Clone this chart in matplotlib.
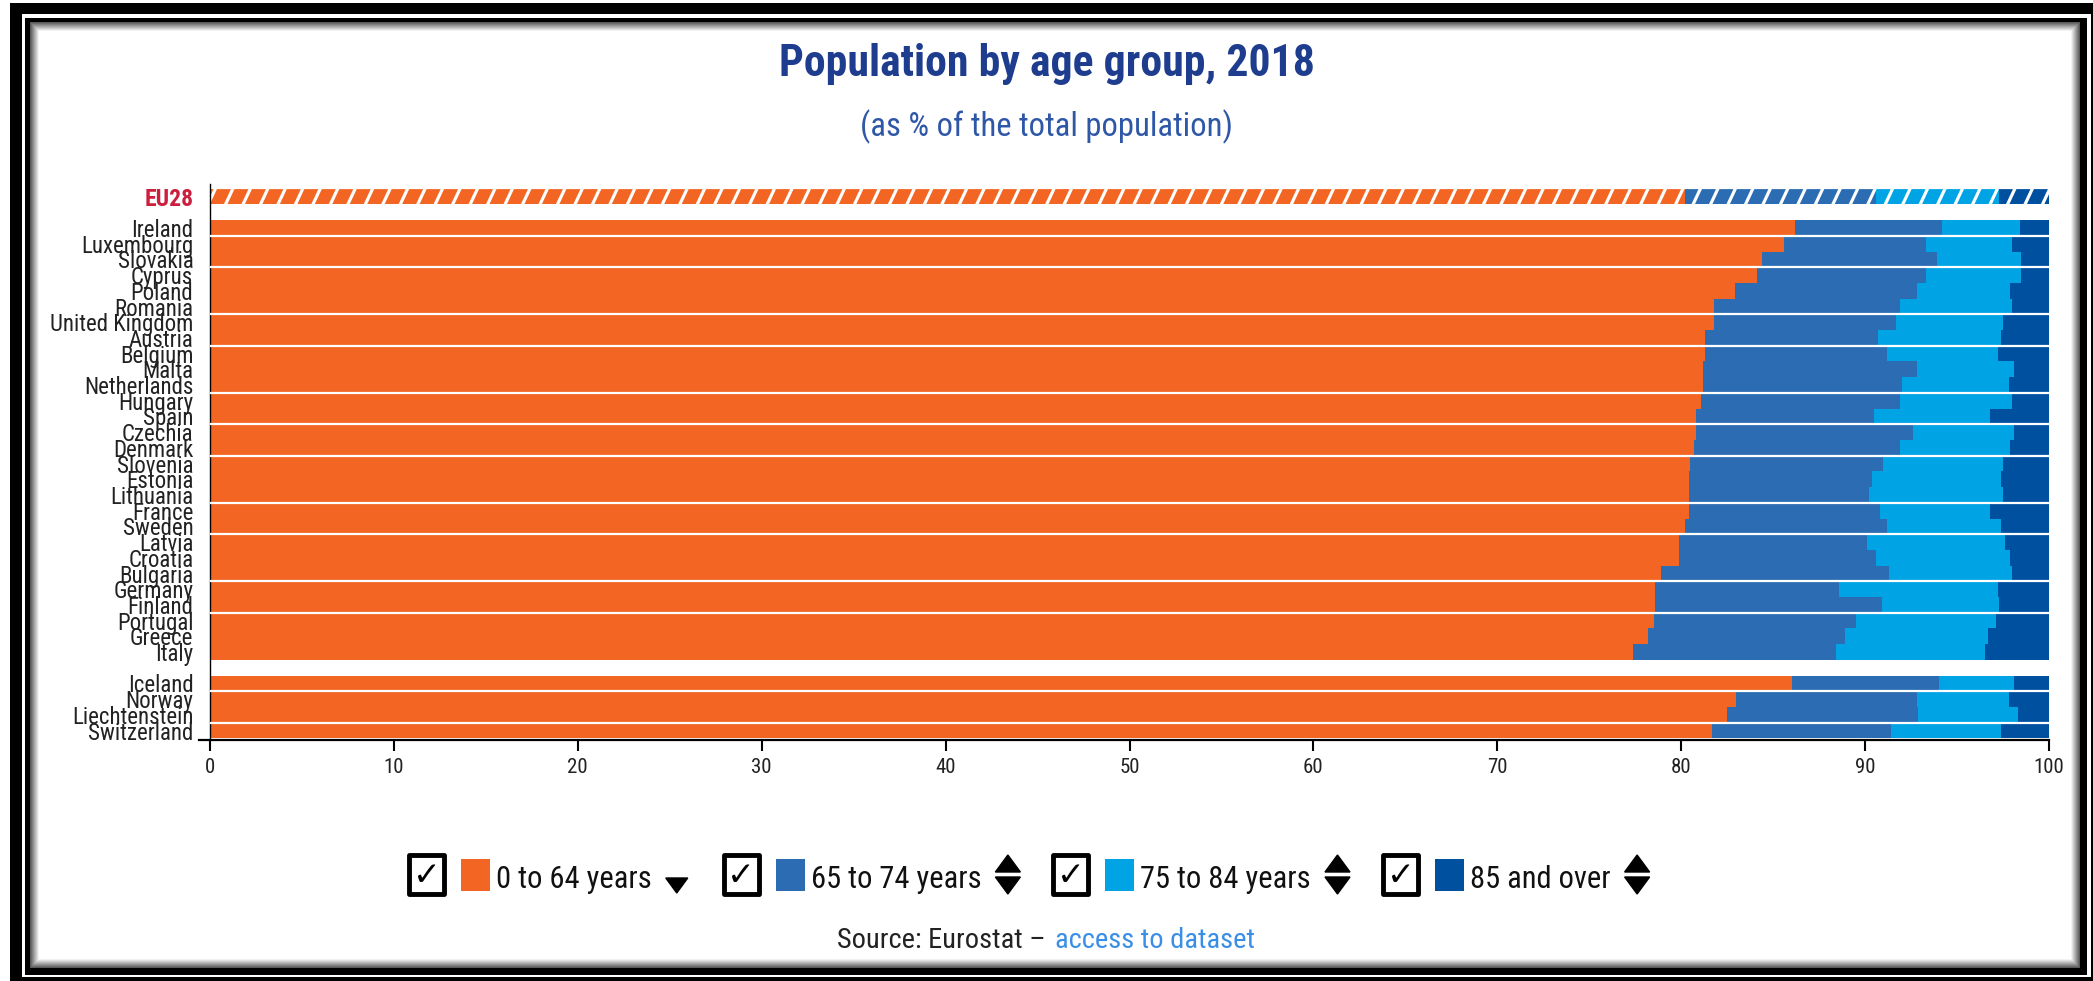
import numpy as np
import matplotlib
matplotlib.use("Agg")
import matplotlib.pyplot as plt
from matplotlib import font_manager
from matplotlib.patches import Rectangle, Polygon
from matplotlib.collections import PolyCollection
from matplotlib.lines import Line2D

# --- data: share of total population by age group, 2018 (%) ---
eu_label = "EU28"
eu_values = [80.2, 10.4, 6.7, 2.7]

countries = ["Ireland", "Luxembourg", "Slovakia", "Cyprus", "Poland", "Romania",
             "United Kingdom", "Austria", "Belgium", "Malta", "Netherlands",
             "Hungary", "Spain", "Czechia", "Denmark", "Slovenia", "Estonia",
             "Lithuania", "France", "Sweden", "Latvia", "Croatia", "Bulgaria",
             "Germany", "Finland", "Portugal", "Greece", "Italy"]
age_0_64 = [86.2, 85.6, 84.4, 84.1, 82.9, 81.8, 81.8, 81.3, 81.3, 81.2, 81.2,
            81.1, 80.8, 80.8, 80.7, 80.5, 80.4, 80.4, 80.4, 80.2, 79.9, 79.9,
            78.9, 78.6, 78.6, 78.5, 78.2, 77.4]
age_65_74 = [8.0, 7.7, 9.5, 9.2, 9.9, 10.1, 9.9, 9.4, 9.9, 11.6, 10.8,
             10.8, 9.7, 11.8, 11.2, 10.5, 10.0, 9.8, 10.4, 11.0, 10.2, 10.7,
             12.4, 10.0, 12.3, 11.0, 10.7, 11.0]
age_75_84 = [4.2, 4.7, 4.6, 5.2, 5.1, 6.1, 5.8, 6.7, 6.0, 5.3, 5.8,
             6.1, 6.3, 5.5, 6.0, 6.5, 7.0, 7.3, 6.0, 6.2, 7.5, 7.3,
             6.7, 8.6, 6.4, 7.6, 7.8, 8.1]
age_85_plus = [1.6, 2.0, 1.5, 1.5, 2.1, 2.0, 2.5, 2.6, 2.8, 1.9, 2.2,
               2.0, 3.2, 1.9, 2.1, 2.5, 2.6, 2.5, 3.2, 2.6, 2.4, 2.1,
               2.0, 2.8, 2.7, 2.9, 3.3, 3.5]

efta = ["Iceland", "Norway", "Liechtenstein", "Switzerland"]
efta_0_64 = [86.0, 83.0, 82.5, 81.7]
efta_65_74 = [8.0, 9.8, 10.4, 9.7]
efta_75_84 = [4.1, 5.0, 5.4, 6.0]
efta_85_plus = [1.9, 2.2, 1.7, 2.6]

groups = ["0 to 64 years", "65 to 74 years", "75 to 84 years", "85 and over"]
colors = ["#f26522", "#2b6cb3", "#00a4e4", "#0050a0"]
sort_arrow = ["down", "both", "both", "both"]


def pick_font(*names):
    for n in names:
        try:
            font_manager.findfont(n, fallback_to_default=False)
            return n
        except ValueError:
            pass
    return "DejaVu Sans"


narrow = pick_font("Liberation Sans Narrow", "Roboto Condensed", "Liberation Sans")
plt.rcParams["font.family"] = [narrow, "DejaVu Sans"]

W, H = 2093, 981
fig = plt.figure(figsize=(W / 100, H / 100), dpi=100)


def fx(px):
    return px / W


def fy(py):
    return 1 - py / H


def frect(x0, y0, x1, y1, color, z=-10, **kw):
    r = Rectangle((fx(x0), fy(y1)), (x1 - x0) / W, (y1 - y0) / H,
                  transform=fig.transFigure, facecolor=color,
                  edgecolor=kw.pop("edgecolor", "none"), zorder=z, **kw)
    fig.add_artist(r)
    return r


# page frame: thick outer border, thin inner border with soft inner shadow
frect(10, 3, W, H, "black")
frect(22, 14, W - 2, H - 4, "white")
frect(25, 18, 2087, 975, "black")
for k in range(10):
    g = min(1.0, 0.35 + 0.075 * k)
    frect(30 + k, 22 + k, 2080 - k, 968 - k, (g, g, g))
frect(40, 32, 2070, 958, "white")

# --- chart ---
ax = fig.add_axes([fx(210), fy(740), (2049 - 210) / W, (740 - 184) / H])
ax.set_facecolor("none")

pos_eu = -2
pos_c = np.arange(len(countries))
pos_e = np.arange(len(efta)) + len(countries) + 1

series_c = [age_0_64, age_65_74, age_75_84, age_85_plus]
series_e = [efta_0_64, efta_65_74, efta_75_84, efta_85_plus]


def striped_segment(a, b, y, h, color, period=0.95, width=0.76, slant=0.38):
    # slanted dashes filling [a, b], kept on one grid so the pattern runs on
    clip = Rectangle((a, y - h / 2), b - a, h, facecolor="none", linewidth=0)
    ax.add_patch(clip)
    k0 = int(np.floor((a - slant) / period)) - 1
    k1 = int(np.ceil(b / period)) + 1
    polys = []
    for k in range(k0, k1):
        x = k * period
        polys.append([(x, y + h / 2), (x + width, y + h / 2),
                      (x + width + slant, y - h / 2), (x + slant, y - h / 2)])
    pc = PolyCollection(polys, facecolors=color, edgecolors="none")
    ax.add_collection(pc)
    pc.set_clip_path(clip)


left_c = np.zeros(len(countries))
left_e = np.zeros(len(efta))
left_eu = 0.0
for i in range(4):
    vc = np.array(series_c[i])
    ve = np.array(series_e[i])
    ax.barh(pos_c, vc, left=left_c, height=1.0, color=colors[i], linewidth=0)
    ax.barh(pos_e, ve, left=left_e, height=1.0, color=colors[i], linewidth=0)
    striped_segment(left_eu, left_eu + eu_values[i], pos_eu, 0.95, colors[i])
    left_c += vc
    left_e += ve
    left_eu += eu_values[i]

# white separators between row bands
sep_rows = [0, 2, 5, 7, 10, 12, 14, 17, 19, 22, 24, 29, 31]
ax.hlines([r + 0.5 for r in sep_rows], 0, 100, color="white", linewidth=1.6, zorder=3)

ax.set_xlim(0, 100)
ax.set_ylim(32.6, -2.8)
ax.set_yticks([pos_eu] + list(pos_c) + list(pos_e))
ax.set_yticklabels([eu_label] + countries + efta)
ax.tick_params(axis="y", length=0, pad=12, labelsize=16.5, labelcolor="#222222")
ax.set_xticks(np.arange(0, 101, 10))
ax.tick_params(axis="x", length=8, width=1.5, pad=5, labelsize=15, labelcolor="#222222")
lab = ax.get_yticklabels()[0]
lab.set_color("#cc1f3d")
lab.set_fontsize(17)
lab.set_fontweight("bold")

for s in ["top", "right"]:
    ax.spines[s].set_visible(False)
ax.spines["left"].set_linewidth(1.0)
ax.spines["bottom"].set_linewidth(1.6)
ax.add_line(Line2D([-0.006, 0], [0, 0], transform=ax.transAxes, color="black",
                   linewidth=1.6, clip_on=False))

# titles
fig.text(0.5, fy(64), "Population by age group, 2018", ha="center", va="center",
         fontsize=31.5, fontweight="bold", color="#1f3d8f")
fig.text(0.5, fy(127), "(as % of the total population)", ha="center", va="center",
         fontsize=23.5, color="#2f57a8")

# --- legend row ---
renderer = fig.canvas.get_renderer()
x = 409
for name, col, arrow in zip(groups, colors, sort_arrow):
    frect(x, 855, x + 35, 894, "white", z=5, edgecolor="black", linewidth=3.5,
          joinstyle="round")
    fig.text(fx(x + 17.5), fy(875), "\u2713", ha="center", va="center",
             fontsize=24, fontweight="bold", family="DejaVu Sans", zorder=6)
    frect(x + 52, 859, x + 81, 891, col, z=5)
    t = fig.text(fx(x + 87), fy(879), name, ha="left", va="center",
                 fontsize=22, color="#111111")
    bb = t.get_window_extent(renderer)
    ax0 = bb.x1 + 14
    if arrow == "down":
        tri = [(ax0, 878), (ax0 + 22, 878), (ax0 + 11, 893)]
        fig.add_artist(Polygon([(fx(a), fy(b)) for a, b in tri], closed=True,
                               transform=fig.transFigure, color="black"))
        x = ax0 + 22 + 36
    else:
        up = [(ax0, 872), (ax0 + 25, 872), (ax0 + 12.5, 855)]
        dn = [(ax0, 877), (ax0 + 25, 877), (ax0 + 12.5, 894)]
        for tri in (up, dn):
            fig.add_artist(Polygon([(fx(a), fy(b)) for a, b in tri], closed=True,
                                   transform=fig.transFigure, color="black"))
        x = ax0 + 25 + 33

# source line
fig.text(fx(1046), fy(941), "Source: Eurostat \u2013", ha="right", va="center",
         fontsize=20.5, color="#222222")
fig.text(fx(1055), fy(941), "access to dataset", ha="left", va="center",
         fontsize=20.5, color="#3a8ee6")

fig.savefig("out.png", dpi=100)
